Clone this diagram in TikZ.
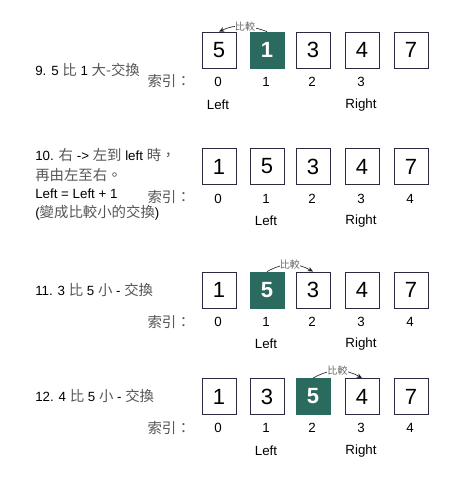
\documentclass[tikz,border=0pt]{standalone}
\usepackage{fontspec}
\setmainfont{Liberation Sans}
\newfontfamily\cjkfont[Scale=1.08]{Noto Sans CJK TC}
\usetikzlibrary{arrows.meta}
\definecolor{teal1}{HTML}{2B6B5F}
\definecolor{boxline}{HTML}{2A2A40}
\definecolor{cjkgray}{HTML}{555555}
\newcommand{\cj}[1]{{\cjkfont\color{cjkgray}#1}}
\begin{document}
\begin{tikzpicture}[x=0.75pt,y=-0.75pt,
  cell/.style={draw=boxline, line width=0.6pt, minimum width=25.5pt, minimum height=27pt, inner sep=0pt, font=\fontsize{16.5}{16.5}\selectfont, fill=white},
  hot/.style={cell, draw=teal1, fill=teal1, text=white, font=\fontsize{16.5}{16.5}\selectfont\bfseries},
  idx/.style={font=\fontsize{10}{12}\selectfont, inner sep=0pt},
  lbl/.style={font=\fontsize{10}{12}\selectfont, inner sep=0pt},
  ttl/.style={font=\fontsize{10}{12}\selectfont, inner sep=0pt, anchor=west, align=left},
  cmp/.style={-{Stealth[length=4pt,width=3.5pt]}, line width=0.5pt, draw=black!85},
  cmplbl/.style={font=\fontsize{7}{7}\selectfont\cjkfont, text=black!60, fill=white, inner sep=0.3pt}
]
\path[use as bounding box] (0,0) rectangle (460,494);

% ---------- Row 1 ----------
\node[ttl] (t1) at (35,70) {9. 5 \cj{比} 1 \cj{大-交換}};
\node[cell] (b10) at (219,50) {5};
\node[hot]  (b11) at (267,50) {1};
\node[cell] (b12) at (313,50) {3};
\node[cell] (b13) at (362,50) {4};
\node[cell] (b14) at (411,50) {7};
\node[idx, anchor=east] (k1) at (191,81) {\cj{索引：}};
\node[idx] (i10) at (218,82) {0};
\node[idx] (i11) at (266,82) {1};
\node[idx] (i12) at (312,82) {2};
\node[idx] (i13) at (361,82) {3};
\node[lbl] (l1) at (218,105) {Left};
\node[lbl] (r1) at (361,105) {Right};
\draw[cmp] (b11.north) to[out=160,in=25] node[cmplbl, pos=0.45] {比較} (b10.north);

% ---------- Row 2 ----------
\node[ttl] (t2a) at (35,155) {10. \cj{右} -> \cj{左到} left \cj{時，}};
\node[ttl] (t2b) at (35,175) {\cj{再由左至右。}};
\node[ttl] (t2c) at (35,194) {Left = Left + 1};
\node[ttl] (t2d) at (35,213) {(\cj{變成比較小的交換})};
\node[cell] (b20) at (219,166.5) {1};
\node[cell] (b21) at (267,166.5) {5};
\node[cell] (b22) at (313,166.5) {3};
\node[cell] (b23) at (362,166.5) {4};
\node[cell] (b24) at (411,166.5) {7};
\node[idx, anchor=east] (k2) at (191,197) {\cj{索引：}};
\node[idx] (i20) at (218,199) {0};
\node[idx] (i21) at (266,199) {1};
\node[idx] (i22) at (312,199) {2};
\node[idx] (i23) at (361,199) {3};
\node[idx] (i24) at (410,199) {4};
\node[lbl] (l2) at (266,221) {Left};
\node[lbl] (r2) at (361,221) {Right};

% ---------- Row 3 ----------
\node[ttl] (t3) at (35,290) {11. 3 \cj{比} 5 \cj{小} - \cj{交換}};
\node[cell] (b30) at (219,290) {1};
\node[hot]  (b31) at (267,290) {5};
\node[cell] (b32) at (313,290) {3};
\node[cell] (b33) at (362,290) {4};
\node[cell] (b34) at (411,290) {7};
\node[idx, anchor=east] (k3) at (191,322) {\cj{索引：}};
\node[idx] (i30) at (218,322) {0};
\node[idx] (i31) at (266,322) {1};
\node[idx] (i32) at (312,322) {2};
\node[idx] (i33) at (361,322) {3};
\node[idx] (i34) at (410,322) {4};
\node[lbl] (l3) at (266,344) {Left};
\node[lbl] (r3) at (361,344) {Right};
\draw[cmp] (b31.north) to[out=30,in=150] node[cmplbl] {比較} (b32.north);

% ---------- Row 4 ----------
\node[ttl] (t4) at (35,396) {12. 4 \cj{比} 5 \cj{小} - \cj{交換}};
\node[cell] (b40) at (219,396.5) {1};
\node[cell] (b41) at (267,396.5) {3};
\node[hot]  (b42) at (313,396.5) {5};
\node[cell] (b43) at (362,396.5) {4};
\node[cell] (b44) at (411,396.5) {7};
\node[idx, anchor=east] (k4) at (191,428) {\cj{索引：}};
\node[idx] (i40) at (218,428) {0};
\node[idx] (i41) at (266,428) {1};
\node[idx] (i42) at (312,428) {2};
\node[idx] (i43) at (361,428) {3};
\node[idx] (i44) at (410,428) {4};
\node[lbl] (l4) at (266,451) {Left};
\node[lbl] (r4) at (361,451) {Right};
\draw[cmp] (b42.north) to[out=30,in=150] node[cmplbl] {比較} (b43.north);
\end{tikzpicture}
\end{document}
